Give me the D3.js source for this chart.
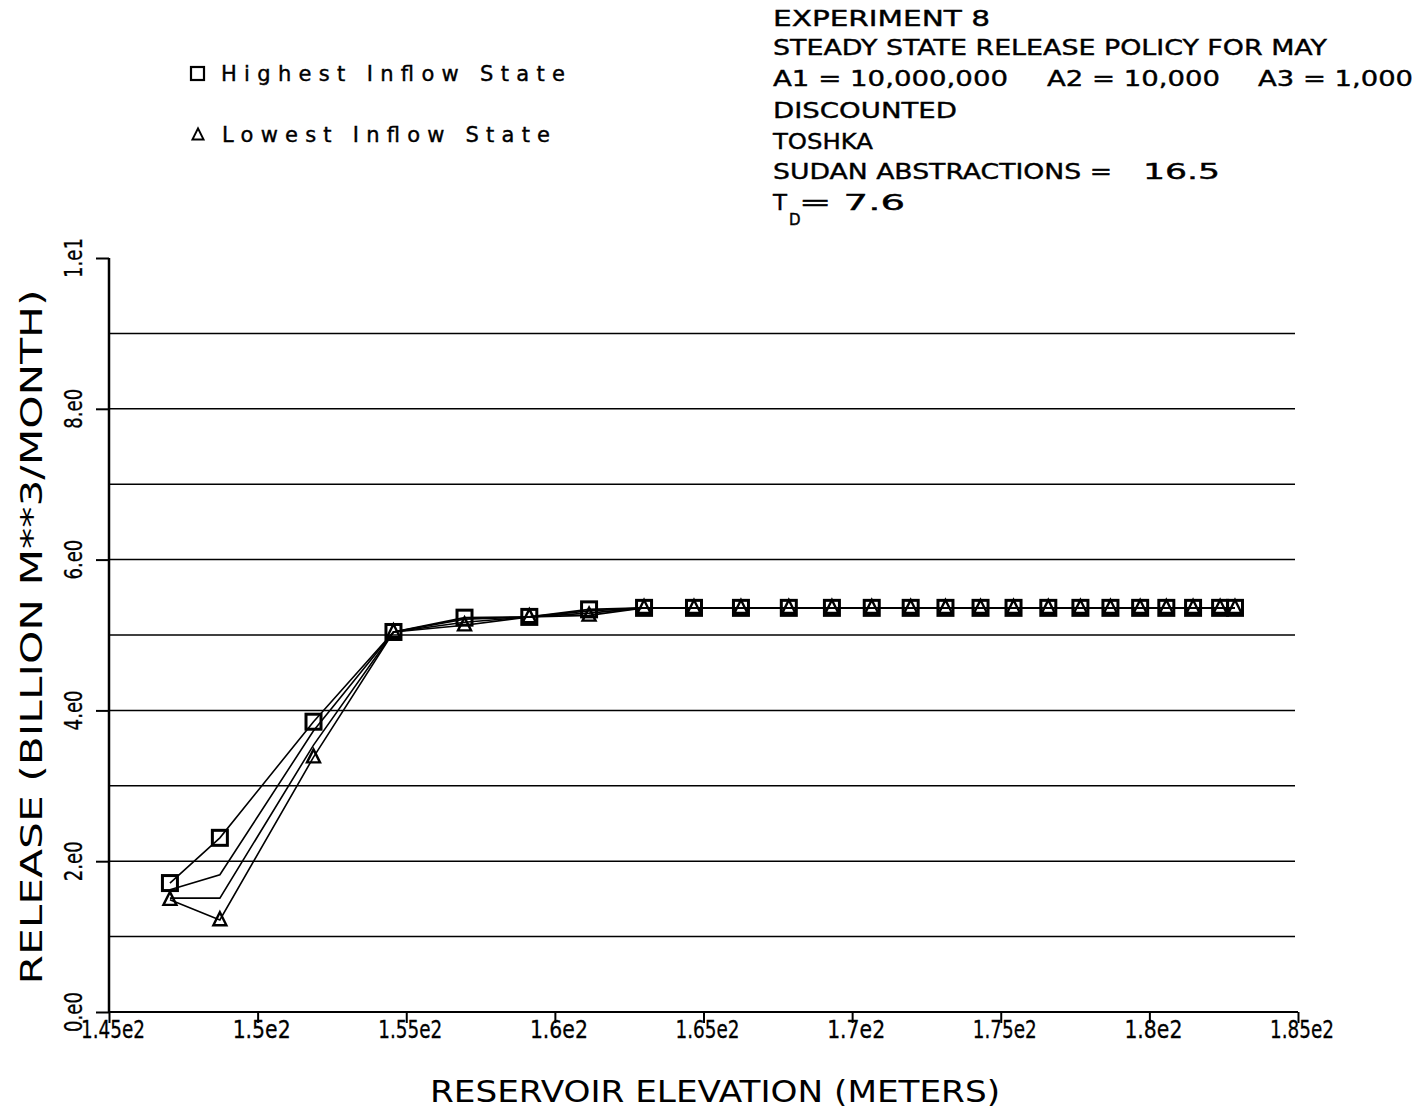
<!DOCTYPE html>
<html>
<head>
<meta charset="utf-8">
<script src="https://cdn.jsdelivr.net/npm/d3@7"></script>
<style>
  html, body { margin: 0; padding: 0; background: #fff; }
  svg text { font-family: "DejaVu Sans", "Liberation Sans", sans-serif; fill: #000; }
</style>
</head>
<body>
<svg id="chart" width="1421" height="1109"></svg>
<script>
// ---- data ----
const elevation = [147.05,148.73,151.88,154.57,156.96,159.14,161.15,163.00,164.68,166.26,167.87,169.32,170.66,171.97,173.14,174.32,175.43,176.60,177.68,178.69,179.69,180.57,181.47,182.38,182.88];
const highest   = [1.71,2.31,3.85,5.04,5.23,5.24,5.34,5.36,5.36,5.36,5.36,5.36,5.36,5.36,5.36,5.36,5.36,5.36,5.36,5.36,5.36,5.36,5.36,5.36,5.36];
const state2    = [1.62,1.82,3.73,5.04,5.21,5.24,5.32,5.36,5.36,5.36,5.36,5.36,5.36,5.36,5.36,5.36,5.36,5.36,5.36,5.36,5.36,5.36,5.36,5.36,5.36];
const state3    = [1.51,1.51,3.54,5.04,5.17,5.24,5.29,5.36,5.36,5.36,5.36,5.36,5.36,5.36,5.36,5.36,5.36,5.36,5.36,5.36,5.36,5.36,5.36,5.36,5.36];
const lowest    = [1.49,1.22,3.38,5.04,5.13,5.24,5.26,5.36,5.36,5.36,5.36,5.36,5.36,5.36,5.36,5.36,5.36,5.36,5.36,5.36,5.36,5.36,5.36,5.36,5.36];

const xTicks = [145,150,155,160,165,170,175,180,185];
const xTickLabels = ["1.45e2","1.5e2","1.55e2","1.6e2","1.65e2","1.7e2","1.75e2","1.8e2","1.85e2"];
const yGrid = [1,2,3,4,5,6,7,8,9];
const yTicks = [0,2,4,6,8,10];
const yTickLabels = ["0.e0","2.e0","4.e0","6.e0","8.e0","1.e1"];

const legendLabels = ["Highest Inflow State","Lowest Inflow State"];

const svg = d3.select("#chart");
const x = d3.scaleLinear().domain([145,185]).range([109,1298]);
const y = d3.scaleLinear().domain([0,10]).range([1012,258]);

// grid lines
svg.append("g").selectAll("line").data(yGrid).join("line")
  .attr("x1", x(145)).attr("x2", 1295)
  .attr("y1", d => y(d)).attr("y2", d => y(d))
  .attr("stroke", "#000").attr("stroke-width", 1.5);

// x axis
const xAxis = d3.axisBottom(x).tickValues(xTicks).tickSize(11).tickFormat("");
const gx = svg.append("g").attr("transform", `translate(0,${y(0)})`).call(xAxis);
gx.select(".domain").attr("d", `M${x(145)},0H${x(185)}`).attr("stroke-width", 2);
gx.selectAll(".tick line").attr("stroke-width", 2);
svg.append("g").selectAll("text").data(xTicks).join("text")
  .attr("x", d => x(d) + 4).attr("y", 1038)
  .attr("text-anchor", "middle").attr("font-size", 24)
  .attr("stroke", "#000").attr("stroke-width", 0.3)
  .attr("textLength", (d,i) => xTickLabels[i].length === 6 ? 64 : 58).attr("lengthAdjust", "spacingAndGlyphs")
  .text((d,i) => xTickLabels[i]);

// y axis
const yAxis = d3.axisLeft(y).tickValues(yTicks).tickSize(13).tickFormat("");
const gy = svg.append("g").attr("transform", `translate(${x(145)},0)`).call(yAxis);
gy.select(".domain").attr("d", `M0,${y(10)}V${y(0)}`).attr("stroke-width", 2.5);
gy.selectAll(".tick line").attr("stroke-width", 2);
svg.append("g").selectAll("text").data(yTicks).join("text")
  .attr("transform", d => `translate(82,${y(d)}) rotate(-90)`)
  .attr("text-anchor", "middle").attr("font-size", 24)
  .attr("stroke", "#000").attr("stroke-width", 0.3)
  .attr("textLength", 40).attr("lengthAdjust", "spacingAndGlyphs")
  .text((d,i) => yTickLabels[i]);

// axis titles
svg.append("text").attr("x", 715).attr("y", 1102).attr("text-anchor", "middle")
  .attr("font-size", 30).attr("textLength", 570).attr("lengthAdjust", "spacingAndGlyphs")
  .text("RESERVOIR ELEVATION (METERS)");
svg.append("text").attr("transform", "translate(42,637) rotate(-90)").attr("text-anchor", "middle")
  .attr("font-size", 30).attr("textLength", 695).attr("lengthAdjust", "spacingAndGlyphs")
  .text("RELEASE (BILLION M**3/MONTH)");

// series lines
const line = d3.line().x((d,i) => x(elevation[i])).y(d => y(d));
[highest, state2, state3, lowest].forEach(s => {
  svg.append("path").attr("d", line(s)).attr("fill", "none")
    .attr("stroke", "#000").attr("stroke-width", 1.6);
});

// markers
const sq = 15, tri = 13;
svg.append("g").selectAll("rect").data(highest).join("rect")
  .attr("x", (d,i) => x(elevation[i]) - sq/2).attr("y", d => y(d) - sq/2)
  .attr("width", sq).attr("height", sq)
  .attr("fill", "none").attr("stroke", "#000").attr("stroke-width", 3);
const triPath = (cx, cy, s) => `M${cx},${cy - s*0.6}L${cx + s/2},${cy + s*0.4}L${cx - s/2},${cy + s*0.4}Z`;
svg.append("g").selectAll("path").data(lowest).join("path")
  .attr("d", (d,i) => triPath(x(elevation[i]), y(d), tri))
  .attr("fill", "none").attr("stroke", "#000").attr("stroke-width", 2.4);

// legend
svg.append("rect").attr("x", 191).attr("y", 67).attr("width", 13).attr("height", 13)
  .attr("fill", "none").attr("stroke", "#000").attr("stroke-width", 2.2);
svg.append("path").attr("d", triPath(198, 135, 11))
  .attr("fill", "none").attr("stroke", "#000").attr("stroke-width", 2);
svg.append("text").attr("x", 221).attr("y", 81).attr("font-size", 21)
  .attr("stroke", "#000").attr("stroke-width", 0.4)
  .attr("textLength", 344).attr("lengthAdjust", "spacing").text(legendLabels[0]);
svg.append("text").attr("x", 222).attr("y", 142).attr("font-size", 21)
  .attr("stroke", "#000").attr("stroke-width", 0.4)
  .attr("textLength", 328).attr("lengthAdjust", "spacing").text(legendLabels[1]);

// header text block
const hdr = [
  {t:"EXPERIMENT 8", x:773, y:26, w:217},
  {t:"STEADY STATE RELEASE POLICY FOR MAY", x:773, y:55, w:554},
  {t:"A1 = 10,000,000", x:773, y:86, w:235},
  {t:"A2 = 10,000", x:1047, y:86, w:173},
  {t:"A3 = 1,000", x:1258, y:86, w:155},
  {t:"DISCOUNTED", x:773, y:118, w:184},
  {t:"TOSHKA", x:773, y:149, w:100},
  {t:"SUDAN ABSTRACTIONS =", x:773, y:179, w:339},
  {t:"16.5", x:1143, y:179, w:77},
  {t:"T", x:773, y:210, w:14},
  {t:"= 7.6", x:799, y:210, w:106}
];
svg.append("g").selectAll("text").data(hdr).join("text")
  .attr("x", d => d.x).attr("y", d => d.y).attr("font-size", 22)
  .attr("stroke", "#000").attr("stroke-width", 0.4)
  .attr("textLength", d => d.w).attr("lengthAdjust", "spacingAndGlyphs")
  .text(d => d.t);
svg.append("text").attr("x", 789).attr("y", 225).attr("font-size", 15)
  .attr("stroke", "#000").attr("stroke-width", 0.4).text("D");
</script>
</body>
</html>
